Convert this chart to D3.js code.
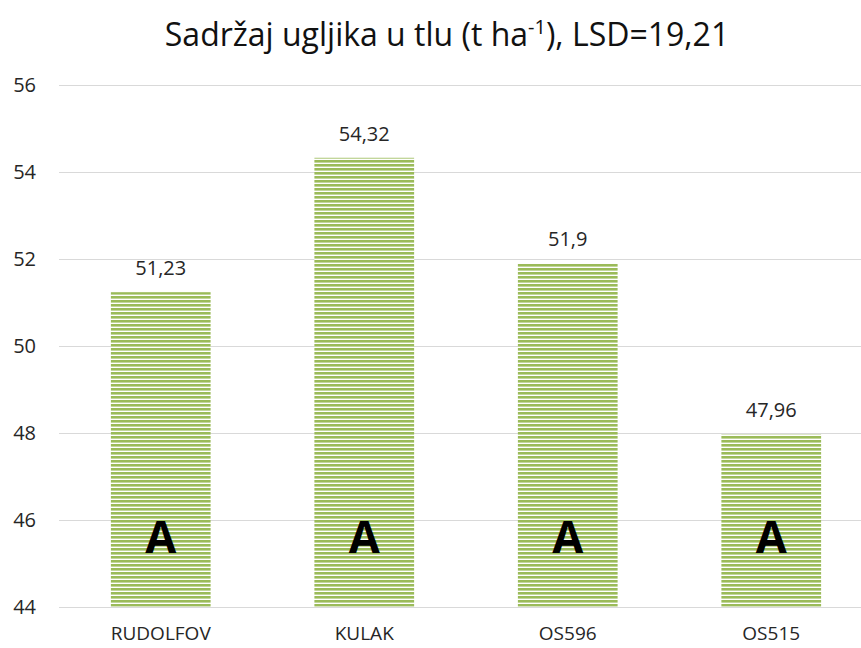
<!DOCTYPE html>
<html>
<head>
<meta charset="utf-8">
<script src="https://cdn.jsdelivr.net/npm/d3@7"></script>
<style>
  body { margin: 0; background: #fff; }
  text { font-family: "Open Sans", "Noto Sans", sans-serif; }
</style>
</head>
<body>
<svg id="chart" width="861" height="648"></svg>
<script>
// data
const categories = ["RUDOLFOV", "KULAK", "OS596", "OS515"];
const values = [51.23, 54.32, 51.9, 47.96];
const valueLabels = ["51,23", "54,32", "51,9", "47,96"];
const groupLetters = ["A", "A", "A", "A"];
const yTicks = [44, 46, 48, 50, 52, 54, 56];

const svg = d3.select("#chart");
const plotLeft = 59, plotRight = 873, plotTop = 84.7, plotBottom = 606.7;

// striped fill like excel's narrow horizontal pattern
const pat = svg.append("defs").append("pattern")
    .attr("id", "stripes")
    .attr("patternUnits", "userSpaceOnUse")
    .attr("width", 8).attr("height", 4);
pat.append("rect").attr("width", 8).attr("height", 4).attr("fill", "#ffffff");
pat.append("rect").attr("width", 8).attr("height", 2.6).attr("fill", "#9bbb59");

const x = d3.scaleBand().domain(categories).range([plotLeft, plotRight]).paddingInner(0.51).paddingOuter(0.255);
const y = d3.scaleLinear().domain([44, 56]).range([plotBottom, plotTop]);

// gridlines
svg.append("g").selectAll("line")
    .data(yTicks)
    .enter()
    .append("line")
    .attr("x1", plotLeft).attr("x2", 861)
    .attr("y1", d => Math.round(y(d)) + 0.5)
    .attr("y2", d => Math.round(y(d)) + 0.5)
    .attr("stroke", "#d9d9d9")
    .attr("stroke-width", 1);

// y tick labels
svg.append("g").selectAll("text")
    .data(yTicks)
    .enter()
    .append("text")
    .attr("x", 36)
    .attr("y", d => y(d))
    .attr("dy", "0.35em")
    .attr("text-anchor", "end")
    .attr("font-size", 20)
    .attr("fill", "#262626")
    .text(d => d);

// bars
svg.append("g").selectAll("rect")
    .data(values)
    .enter()
    .append("rect")
    .attr("x", (d, i) => x(categories[i]))
    .attr("width", x.bandwidth())
    .attr("y", d => y(d))
    .attr("height", d => y(44) - y(d))
    .attr("fill", "url(#stripes)");

// value labels
svg.append("g").selectAll("text")
    .data(values)
    .enter()
    .append("text")
    .attr("x", (d, i) => x(categories[i]) + x.bandwidth() / 2)
    .attr("y", d => y(d) - 17)
    .attr("text-anchor", "middle")
    .attr("font-size", 20)
    .attr("fill", "#262626")
    .text((d, i) => valueLabels[i]);

// letters inside bars
svg.append("g").selectAll("text")
    .data(groupLetters)
    .enter()
    .append("text")
    .attr("x", (d, i) => x(categories[i]) + x.bandwidth() / 2)
    .attr("y", 553)
    .attr("text-anchor", "middle")
    .attr("font-family", "'Liberation Sans', Arial, sans-serif")
    .attr("font-weight", "bold")
    .attr("font-size", 45)
    .attr("fill", "#000")
    .text(d => d);

// category labels
svg.append("g").selectAll("text")
    .data(categories)
    .enter()
    .append("text")
    .attr("x", d => x(d) + x.bandwidth() / 2)
    .attr("y", 640)
    .attr("text-anchor", "middle")
    .attr("font-size", 19)
    .attr("fill", "#262626")
    .text(d => d);

// title with superscript
const title = svg.append("text")
    .attr("x", 447)
    .attr("y", 46)
    .attr("text-anchor", "middle")
    .attr("font-size", 32)
    .attr("fill", "#111");
title.append("tspan").text("Sadržaj ugljika u tlu (t ha");
title.append("tspan").attr("dy", -12).attr("font-size", 20).text("-1");
title.append("tspan").attr("dy", 12).text("), LSD=19,21");
</script>
</body>
</html>
